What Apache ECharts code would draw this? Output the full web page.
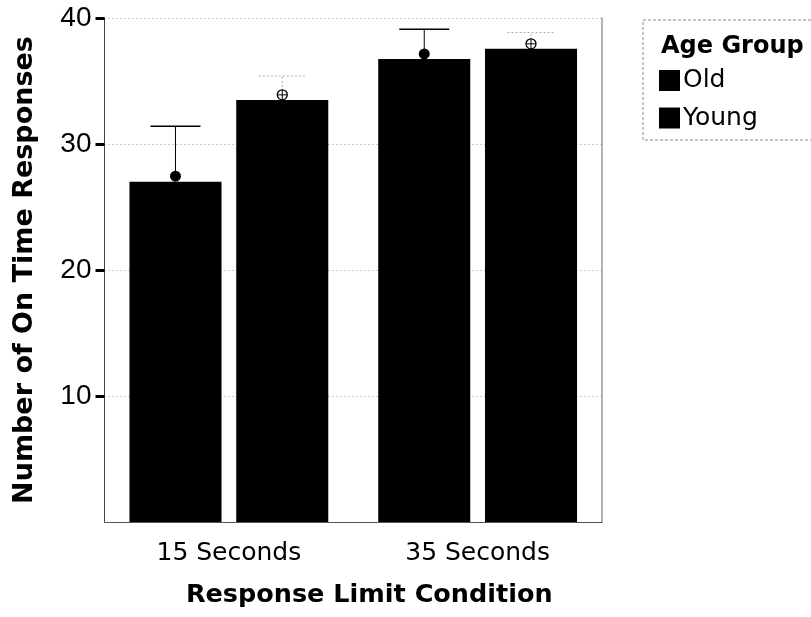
<!DOCTYPE html>
<html>
<head>
<meta charset="utf-8">
<script src="https://cdn.jsdelivr.net/npm/echarts@6/dist/echarts.min.js"></script>
<style>
html,body{margin:0;padding:0;background:#fff;}
#chart{width:811px;height:617px;}
</style>
</head>
<body>
<div id="chart"></div>
<script>
// ---- data ----
const categories = ['15 Seconds', '35 Seconds'];
const seriesNames = ['Old', 'Young'];
const oldMeans = [27.0, 36.75];
const youngMeans = [33.5, 37.55];
const oldMarkers = [27.45, 37.15];
const youngMarkers = [33.9, 37.95];
const oldUpper = [31.4, 39.1];
const youngUpper = [35.4, 38.85];
const yTicks = [10, 20, 30, 40];
const yTitle = 'Number of On Time Responses';
const xTitle = 'Response Limit Condition';
const legendTitle = 'Age Group';

const BAR_W = 0.37, BAR_GAP = 0.16;
const centerOffset = (BAR_W + BAR_W * BAR_GAP) / 2; // fraction of band

function errorRenderer(side, markers, uppers, style) {
  return function (params, api) {
    const i = api.value(0);
    const band = api.size([1, 0])[0];
    const c = api.coord([i, 0]);
    const x = c[0] + side * centerOffset * band;
    const pm = api.coord([i, markers[i]]);
    const pu = api.coord([i, uppers[i]]);
    const capHalf = style.cap / 2;
    const children = [
      { type: 'line', shape: { x1: x, y1: pm[1], x2: x, y2: pu[1] },
        style: { stroke: style.color, lineWidth: 1, lineDash: style.dash } },
      { type: 'line', shape: { x1: x - capHalf, y1: pu[1], x2: x + capHalf, y2: pu[1] },
        style: { stroke: style.color, lineWidth: style.capWidth, lineDash: style.dash } }
    ];
    if (style.filled) {
      children.push({ type: 'circle', shape: { cx: x, cy: pm[1], r: 5.5 }, style: { fill: '#000' } });
    } else {
      children.push({ type: 'circle', shape: { cx: x, cy: pm[1], r: 5 }, style: { fill: '#fff', stroke: '#000', lineWidth: 1.3 } });
      children.push({ type: 'line', shape: { x1: x - 5, y1: pm[1], x2: x + 5, y2: pm[1] }, style: { stroke: '#000', lineWidth: 1 } });
      children.push({ type: 'line', shape: { x1: x, y1: pm[1] - 5, x2: x, y2: pm[1] + 5 }, style: { stroke: '#000', lineWidth: 1 } });
    }
    return { type: 'group', children: children };
  };
}

const chart = echarts.init(document.getElementById('chart'), null, { renderer: 'canvas' });
const option = {
  animation: false,
  backgroundColor: '#fff',
  title: {
    text: legendTitle,
    left: 656, top: 30,
    textStyle: { fontFamily: 'DejaVu Sans', fontWeight: 'bold', fontSize: 24, color: '#000' }
  },
  legend: {
    data: seriesNames,
    orient: 'vertical',
    left: 654, top: 63,
    itemWidth: 21, itemHeight: 21, itemGap: 12.5,
    icon: 'rect',
    selectedMode: false,
    textStyle: { fontFamily: 'DejaVu Sans', fontSize: 25, color: '#000', padding: [0, 0, 0, -2] }
  },
  graphic: [
    { type: 'rect', shape: { x: 643, y: 20, width: 180, height: 120 },
      style: { fill: 'none', stroke: '#888', lineWidth: 1, lineDash: [3, 2] }, silent: true }
  ],
  grid: { left: 104.5, right: 209, top: 18, bottom: 95 },
  xAxis: {
    type: 'category',
    data: categories,
    name: xTitle,
    nameLocation: 'middle',
    nameGap: 60,
    nameTextStyle: { fontFamily: 'DejaVu Sans', fontWeight: 'bold', fontSize: 25.5, color: '#000', padding: [0, 0, 0, 32] },
    axisLine: { lineStyle: { color: '#555', width: 1 } },
    axisTick: { alignWithLabel: true, length: 9, lineStyle: { color: '#000', width: 4 } },
    axisLabel: { fontFamily: 'DejaVu Sans', fontSize: 25, color: '#000', margin: 19 },
    splitLine: { show: false }
  },
  yAxis: [{
    type: 'value',
    min: 0, max: 40, interval: 10,
    name: yTitle,
    nameLocation: 'middle',
    nameGap: 66,
    nameTextStyle: { fontFamily: 'DejaVu Sans', fontWeight: 'bold', fontSize: 27, color: '#000' },
    axisLine: { show: true, lineStyle: { color: '#444', width: 1 } },
    axisTick: { show: true, customValues: yTicks, length: 9, lineStyle: { color: '#000', width: 3 } },
    axisLabel: { customValues: yTicks, fontFamily: 'Liberation Sans', fontSize: 28, color: '#000', margin: 13, padding: [11, 0, 0, 0] },
    splitLine: { show: true, lineStyle: { color: '#999', type: [1, 3], width: 1 } }
  }, {
    type: 'value', position: 'right',
    min: 0, max: 40, interval: 10,
    axisLine: { show: true, lineStyle: { color: '#999', width: 1.5 } },
    axisTick: { show: false }, axisLabel: { show: false }, splitLine: { show: false }
  }],
  series: [
    { name: 'Old', type: 'bar', data: oldMeans, barWidth: (BAR_W * 100) + '%', barGap: (BAR_GAP * 100) + '%',
      itemStyle: { color: '#000' } },
    { name: 'Young', type: 'bar', data: youngMeans, barWidth: (BAR_W * 100) + '%', barGap: (BAR_GAP * 100) + '%',
      itemStyle: { color: '#000' } },
    { type: 'custom', data: categories.map((c, i) => [i]),
      renderItem: errorRenderer(-1, oldMarkers, oldUpper, { color: '#000', cap: 50, capWidth: 1.5, dash: null, filled: true }),
      z: 5 },
    { type: 'custom', data: categories.map((c, i) => [i]),
      renderItem: errorRenderer(1, youngMarkers, youngUpper, { color: '#aaa', cap: 47, capWidth: 1, dash: [2, 2], filled: false }),
      z: 5 }
  ]
};
chart.setOption(option);
</script>
</body>
</html>
